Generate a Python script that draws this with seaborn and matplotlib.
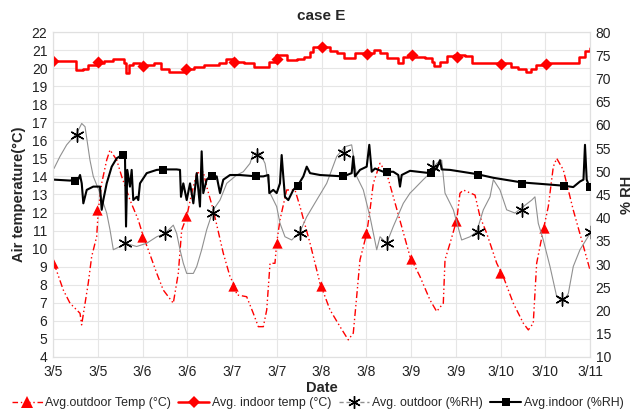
import numpy as np
import pandas as pd
import matplotlib
matplotlib.use("Agg")
import matplotlib.pyplot as plt
from matplotlib.lines import Line2D
import seaborn as sns

# ---------------- data (x in days since 3/5 00:00) ----------------
out_temp_day = [0.011, 0.115, 0.19, 0.302, 0.32, 0.394, 0.432, 0.488, 0.506, 0.544, 0.6, 0.637,
                0.712, 0.768, 0.86, 0.953, 1.009, 1.065, 1.159, 1.232, 1.344, 1.4, 1.438, 1.494,
                1.55, 1.606, 1.679, 1.717, 1.791, 1.903, 1.978, 2.034, 2.053, 2.164, 2.238, 2.294,
                2.35, 2.388, 2.425, 2.48, 2.499, 2.536, 2.611, 2.704, 2.76, 2.872, 2.983, 3.095,
                3.207, 3.299, 3.355, 3.393, 3.43, 3.505, 3.542, 3.579, 3.654, 3.728, 3.802, 3.896,
                3.989, 4.101, 4.212, 4.287, 4.361, 4.38, 4.436, 4.511, 4.547, 4.584, 4.715, 4.771,
                4.846, 4.958, 5.031, 5.143, 5.255, 5.311, 5.366, 5.404, 5.478, 5.534, 5.59, 5.628,
                5.702, 5.813, 5.907, 6.0]
out_temp_val = [9.19, 7.71, 6.98, 6.42, 5.78, 8.09, 9.56, 10.67, 12.14, 13.62, 14.91, 15.47,
                14.91, 13.99, 12.7, 11.59, 10.67, 9.93, 8.64, 7.71, 6.98, 8.64, 11.04, 11.77,
                13.07, 14.18, 14.27, 13.44, 12.14, 9.74, 8.45, 7.9, 7.44, 7.34, 6.42, 5.68,
                5.68, 6.61, 9.19, 9.19, 10.3, 11.59, 13.25, 13.25, 12.33, 10.3, 8.09, 6.61,
                5.68, 4.95, 5.32, 7.34, 9.38, 10.85, 12.14, 13.62, 14.73, 14.18, 12.88, 11.22,
                9.56, 8.45, 7.16, 6.52, 6.98, 9.38, 10.3, 11.59, 13.07, 13.25, 12.97, 11.77,
                10.85, 9.19, 8.45, 6.98, 5.87, 5.5, 5.87, 9.19, 11.04, 12.33, 14.54, 15.0,
                14.36, 12.14, 10.48, 8.82]

in_temp_day = [0.01, 0.154, 0.254, 0.334, 0.393, 0.513, 0.573, 0.673, 0.753, 0.792, 0.82, 0.852,
               0.892, 0.972, 1.052, 1.132, 1.211, 1.291, 1.431, 1.491, 1.571, 1.69, 1.85, 1.93,
               2.03, 2.13, 2.25, 2.37, 2.41, 2.49, 2.57, 2.61, 2.73, 2.81, 2.87, 2.91, 3.01,
               3.09, 3.17, 3.25, 3.33, 3.37, 3.45, 3.53, 3.59, 3.65, 3.73, 3.81, 3.85, 3.91,
               3.97, 4.05, 4.16, 4.24, 4.26, 4.32, 4.40, 4.48, 4.60, 4.68, 4.88, 5.04, 5.12,
               5.20, 5.28, 5.34, 5.40, 5.52, 5.84, 5.88, 5.94, 6.0]
in_temp_val = [20.41, 20.41, 19.9, 19.93, 20.17, 20.3, 20.41, 20.5, 20.5, 20.27, 19.71, 20.17,
               20.3, 20.17, 20.17, 20.27, 19.93, 19.8, 19.8, 19.93, 20.08, 20.17, 20.3, 20.49,
               20.36, 20.27, 20.05, 20.05, 20.36, 20.73, 20.73, 20.45, 20.49, 20.63, 20.91, 21.19, 21.19,
               20.96, 20.82, 20.54, 20.54, 20.82, 20.86, 20.82, 21.0, 20.82, 20.54, 20.54, 20.3, 20.63,
               20.73, 20.63, 20.54, 20.36, 20.14, 20.36, 20.67, 20.73, 20.67, 20.3, 20.3, 20.27, 20.08,
               19.93, 19.8, 19.93, 20.17, 20.3, 20.3, 20.63, 20.96, 21.1]

out_rh_day = [0.011, 0.078, 0.153, 0.265, 0.321, 0.358, 0.413, 0.45, 0.525, 0.6, 0.637, 0.674,
              0.749, 0.804, 0.935, 1.047, 1.159, 1.251, 1.344, 1.382, 1.419, 1.456, 1.494, 1.568,
              1.606, 1.661, 1.717, 1.791, 1.866, 1.941, 2.053, 2.126, 2.201, 2.238, 2.313, 2.369,
              2.425, 2.499, 2.536, 2.592, 2.667, 2.76, 2.835, 2.946, 3.058, 3.17, 3.263, 3.337,
              3.393, 3.467, 3.542, 3.617, 3.654, 3.728, 3.802, 3.914, 3.989, 4.026, 4.137, 4.212,
              4.287, 4.343, 4.38, 4.473, 4.566, 4.659, 4.734, 4.808, 4.883, 4.92, 4.994, 5.069,
              5.162, 5.255, 5.349, 5.385, 5.422, 5.478, 5.553, 5.628, 5.702, 5.758, 5.813, 5.888, 6.0]
out_rh_val = [50.6, 53.2, 55.7, 58.2, 60.3, 59.6, 52.4, 48.9, 45.3, 41.0, 37.4, 33.1,
              33.8, 34.5, 33.8, 34.5, 35.9, 36.6, 38.4, 36.6, 33.1, 30.2, 28.0, 28.0,
              29.5, 33.1, 37.4, 41.7, 43.8, 47.4, 49.2, 49.9, 51.7, 53.9, 53.9, 51.7,
              45.3, 42.4, 38.8, 35.9, 35.2, 37.0, 40.2, 43.8, 47.4, 53.2, 55.3, 55.7,
              48.9, 46.0, 40.2, 33.1, 35.9, 34.5, 38.1, 43.1, 45.3, 46.0, 48.2, 49.6,
              51.7, 52.4, 45.3, 41.7, 35.2, 35.9, 37.0, 41.7, 44.5, 48.2, 46.0, 41.7,
              41.0, 42.4, 43.8, 44.5, 38.8, 35.2, 29.5, 23.0, 21.9, 23.7, 29.5, 33.1, 36.6]

in_rh_day = [0.011, 0.19, 0.283, 0.302, 0.321, 0.339, 0.377, 0.45, 0.525, 0.544, 0.562, 0.6,
             0.656, 0.712, 0.768, 0.804, 0.816, 0.83, 0.86, 0.879, 0.897, 0.935, 0.953, 0.972,
             1.047, 1.159, 1.232, 1.382, 1.419, 1.43, 1.456, 1.494, 1.531, 1.568, 1.606, 1.642,
             1.661, 1.679, 1.717, 1.754, 1.829, 1.866, 1.903, 1.978, 2.089, 2.276, 2.35, 2.406,
             2.417, 2.461, 2.499, 2.536, 2.555, 2.573, 2.592, 2.629, 2.685, 2.741, 2.797, 2.835,
             2.872, 2.983, 3.244, 3.337, 3.355, 3.374, 3.43, 3.505, 3.534, 3.561, 3.598, 3.691,
             3.802, 3.858, 3.877, 3.896, 3.989, 4.212, 4.287, 4.324, 4.343, 4.436, 4.734, 4.92,
             5.237, 5.441, 5.702, 5.813, 5.888, 5.927, 5.944, 5.963, 6.0]
in_rh_val = [48.2, 48.0, 48.3, 49.2, 47.4, 43.1, 46.0, 46.7, 46.7, 41.7, 43.8, 47.4,
             51.0, 52.8, 53.5, 53.5, 38.1, 50.3, 46.7, 50.3, 43.8, 44.5, 43.8, 47.4,
             49.6, 50.3, 50.4, 50.4, 50.3, 44.5, 47.4, 43.8, 47.4, 43.1, 49.6, 42.4,
             54.3, 45.3, 48.2, 48.9, 48.9, 45.3, 48.2, 49.2, 49.2, 48.9, 48.9, 49.2,
             45.3, 46.0, 45.3, 47.4, 53.5, 48.9, 44.5, 43.8, 46.0, 47.1, 48.9, 51.0,
             49.6, 49.2, 48.9, 49.6, 53.2, 48.9, 50.3, 51.0, 55.7, 49.9, 50.6, 49.9,
             49.9, 49.2, 46.7, 49.2, 50.1, 49.6, 50.6, 52.4, 50.4, 50.3, 49.4, 48.6,
             47.6, 47.3, 46.9, 46.6, 47.8, 48.2, 55.7, 48.2, 46.3]

# marker points
out_temp_mk_day = [0.0, 0.49, 0.99, 1.49, 2.01, 2.5, 2.99, 3.5, 4.0, 4.5, 4.99, 5.49]
out_temp_mk_val = [9.19, 12.14, 10.63, 11.83, 7.94, 10.33, 7.94, 10.85, 9.43, 11.55, 8.67, 11.13]
in_temp_mk_day = [0.0, 0.5, 1.0, 1.49, 2.02, 2.5, 3.01, 3.51, 4.01, 4.51, 5.01, 5.51]
in_temp_mk_val = [20.39, 20.32, 20.14, 19.95, 20.32, 20.5, 21.17, 20.8, 20.73, 20.6, 20.23, 20.23]
out_rh_mk_day = [0.27, 0.80, 1.25, 1.79, 2.28, 2.76, 3.25, 3.73, 4.25, 4.75, 5.24, 5.69, 6.01]
out_rh_mk_val = [57.8, 34.5, 36.8, 41.1, 53.6, 36.8, 53.9, 34.5, 50.9, 37.0, 41.7, 22.5, 37.0]
in_rh_mk_day = [0.25, 0.78, 1.23, 1.78, 2.27, 2.74, 3.24, 3.73, 4.22, 4.75, 5.24, 5.71, 6.0]
in_rh_mk_val = [47.9, 53.6, 50.3, 49.0, 49.0, 46.9, 49.0, 49.9, 49.7, 49.3, 47.3, 46.9, 46.6]

tick_labels = ['3/5', '3/5', '3/6', '3/6', '3/7', '3/7', '3/8', '3/8',
               '3/9', '3/9', '3/10', '3/10', '3/11']
series_names = ['Avg.outdoor Temp (°C)', 'Avg. indoor temp (°C)',
                'Avg. outdoor (%RH)', 'Avg.indoor (%RH)']

# ---------------- plot ----------------
sns.set_theme(style="white")
plt.rcParams['font.family'] = ['Liberation Sans', 'DejaVu Sans']

fig = plt.figure(figsize=(6.35, 4.12), dpi=100)
ax = fig.add_axes([53 / 635, 1 - 357 / 412, (590 - 53) / 635, (357 - 32) / 412])
ax2 = ax.twinx()

RED = '#ff0000'
GRAY = '#909090'

asterisk = (6, 2, 0)

# temperature axis
sns.lineplot(x=out_temp_day, y=out_temp_val, ax=ax, color=RED, lw=1.0,
             linestyle=(0, (5, 2, 1, 2, 1, 2)), sort=False, estimator=None)
sns.lineplot(x=in_temp_day, y=in_temp_val, ax=ax, color=RED, lw=1.8,
             drawstyle='steps-post', sort=False, estimator=None)
sns.scatterplot(x=out_temp_mk_day, y=out_temp_mk_val, ax=ax, color=RED, marker='^',
                s=55, linewidth=0, zorder=5)
sns.scatterplot(x=in_temp_mk_day, y=in_temp_mk_val, ax=ax, color=RED, marker='D',
                s=38, linewidth=0, zorder=5)

# RH axis
sns.lineplot(x=out_rh_day, y=out_rh_val, ax=ax2, color=GRAY, lw=0.8,
             sort=False, estimator=None)
sns.lineplot(x=in_rh_day, y=in_rh_val, ax=ax2, color='black', lw=1.5,
             sort=False, estimator=None)
sns.scatterplot(x=out_rh_mk_day, y=out_rh_mk_val, ax=ax2, color='black', marker=asterisk,
                s=90, linewidth=1.0, edgecolor='black', zorder=5)
sns.scatterplot(x=in_rh_mk_day, y=in_rh_mk_val, ax=ax2, color='black', marker='s',
                s=40, linewidth=0, zorder=5)

ax.set_xlim(0, 6)
ax.set_ylim(4, 22)
ax2.set_ylim(10, 80)
ax.set_yticks(range(4, 23))
ax2.set_yticks(range(10, 81, 5))
ax.set_xticks(np.arange(0, 6.01, 0.5))
ax.set_xticklabels(tick_labels)

ax.grid(True, color='#e6e6e6', lw=0.8)
ax.set_axisbelow(True)
for a in (ax, ax2):
    for s in a.spines.values():
        s.set_color('#e0e0e0')
        s.set_linewidth(0.8)
    a.tick_params(length=0, labelsize=10, colors='#222222', pad=4)
ax.tick_params(axis='x', pad=6)

ax.set_xlabel('Date', fontsize=10.5, fontweight='bold', labelpad=1)
ax.set_ylabel('Air temperature(°C)', fontsize=10.5, fontweight='bold', labelpad=4)
ax2.set_ylabel('% RH', fontsize=10.5, fontweight='bold', labelpad=6)
ax.set_title('case E', fontsize=11, fontweight='bold', pad=9)

handles = [
    Line2D([], [], color=RED, lw=1.0, linestyle=(0, (4, 2, 1, 2)), marker='^',
           markersize=8, markeredgewidth=0),
    Line2D([], [], color=RED, lw=1.8, marker='D', markersize=6, markeredgewidth=0),
    Line2D([], [], color=GRAY, lw=1.0, linestyle=(0, (3, 2)), marker=asterisk,
           markersize=9, markeredgecolor='black', markeredgewidth=1.0),
    Line2D([], [], color='black', lw=1.5, marker='s', markersize=6, markeredgewidth=0),
]
fig.legend(handles, series_names, loc='lower center', bbox_to_anchor=(0.5, -0.02),
           ncol=4, frameon=False, fontsize=8.9, handlelength=2.5, handletextpad=0.2,
           columnspacing=0.6)

fig.savefig('out.png', dpi=100)
